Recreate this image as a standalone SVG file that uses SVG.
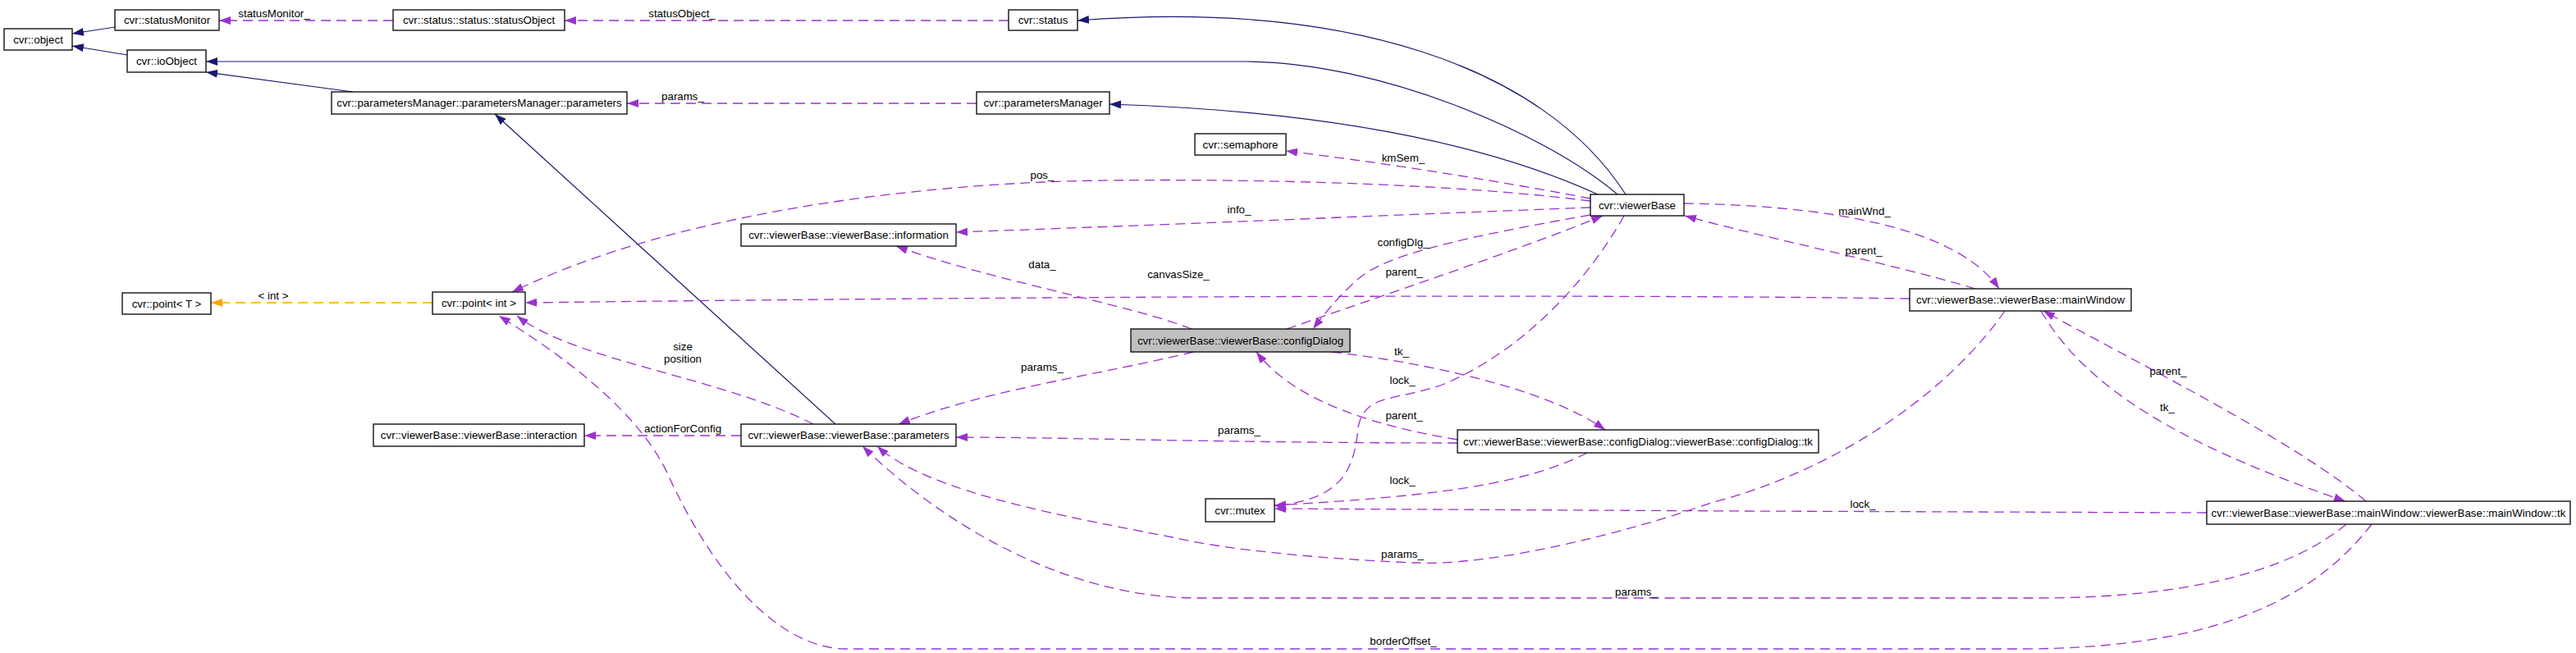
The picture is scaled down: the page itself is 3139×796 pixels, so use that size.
<svg xmlns="http://www.w3.org/2000/svg" width="3139" height="796" viewBox="0 0 3139 796">
<style>
.n rect{fill:#ffffff;stroke:#000000;stroke-width:1.3}
.n.cur rect{fill:#bfbfbf}
text{font-family:"Liberation Sans",Arial,Helvetica,sans-serif;font-size:13.33px;fill:#000000}
.n text{text-anchor:middle}
.l{text-anchor:middle}
.inh{fill:none;stroke:#191970;stroke-width:1.2;marker-end:url(#an)}
.use{fill:none;stroke:#9a32cd;stroke-width:1.3;stroke-dasharray:12,7;marker-end:url(#ap)}
.tpl{fill:none;stroke:#ffa500;stroke-width:1.3;stroke-dasharray:12,7;marker-end:url(#ao)}
</style>
<defs>
<marker id="an" viewBox="0 0 14 10" refX="14" refY="5" markerWidth="14" markerHeight="10" markerUnits="userSpaceOnUse" orient="auto"><path d="M0,0 L14,5 L0,10 z" fill="#191970"/></marker>
<marker id="ap" viewBox="0 0 14 10" refX="14" refY="5" markerWidth="14" markerHeight="10" markerUnits="userSpaceOnUse" orient="auto"><path d="M0,0 L14,5 L0,10 z" fill="#9a32cd"/></marker>
<marker id="ao" viewBox="0 0 14 10" refX="14" refY="5" markerWidth="14" markerHeight="10" markerUnits="userSpaceOnUse" orient="auto"><path d="M0,0 L14,5 L0,10 z" fill="#ffa500"/></marker>
</defs>
<rect x="0" y="0" width="3139" height="796" fill="#ffffff"/>
<g id="connectors">
<path class="inh" d="M140,33 L88,41"/>
<path class="inh" d="M155,67 L88,56"/>
<path class="inh" d="M430,112 L251,88"/>
<path class="inh" d="M1971,237 C1880,160 1680,76 1519,75 L251,75"/>
<path class="inh" d="M1981,237 C1880,80 1640,0 1313,25"/>
<path class="inh" d="M1947,237 C1800,170 1600,135 1352,127"/>
<path class="inh" d="M1018,517 L603,139"/>
<path class="use" d="M479,25 L267,25"/>
<text class="l" x="334" y="21">statusMonitor_</text>
<path class="use" d="M1229,25 L688,25"/>
<text class="l" x="831" y="21">statusObject_</text>
<path class="use" d="M1190,126 L764,126"/>
<text class="l" x="832" y="122">params_</text>
<path class="use" d="M1938,242 C1850,225 1700,200 1567,184"/>
<text class="l" x="1710" y="197">kmSem_</text>
<path class="use" d="M1938,245 C1700,215 1350,218 1270,222 C1050,232 800,270 624,356"/>
<text class="l" x="1270" y="218">pos_</text>
<path class="use" d="M1938,253 C1700,262 1400,275 1165,283"/>
<text class="l" x="1510" y="260">info_</text>
<path class="use" d="M1938,262 C1780,290 1690,310 1655,340 C1630,362 1612,385 1600,401"/>
<text class="l" x="1710" y="300">configDlg_</text>
<path class="use" d="M1568,401 C1680,362 1850,305 1953,263"/>
<text class="l" x="1711" y="336">parent_</text>
<path class="use" d="M1452,401 C1380,372 1200,340 1092,300"/>
<text class="l" x="1270" y="327">data_</text>
<path class="use" d="M2327,364 C1900,358 1200,362 640,369"/>
<text class="l" x="1436" y="339">canvasSize_</text>
<path class="tpl" d="M527,369 L257,369"/>
<text class="l" x="333" y="365">&lt; int &gt;</text>
<path class="use" d="M2052,248 C2200,250 2380,270 2436,352"/>
<text class="l" x="2272" y="262">mainWnd_</text>
<path class="use" d="M2407,352 C2300,320 2150,290 2053,263"/>
<text class="l" x="2271" y="310">parent_</text>
<path class="use" d="M1454,429 C1350,455 1200,475 1095,517"/>
<text class="l" x="1270" y="452">params_</text>
<path class="use" d="M1623,429 C1720,440 1880,470 1956,524"/>
<text class="l" x="1708" y="433">tk_</text>
<path class="use" d="M1776,536 C1650,515 1570,480 1531,429"/>
<text class="l" x="1711" y="511">parent_</text>
<path class="use" d="M1776,540 C1500,540 1300,533 1165,533"/>
<text class="l" x="1510" y="529">params_</text>
<path class="use" d="M1979,263 C1930,350 1850,430 1760,468 C1700,490 1665,478 1655,520 C1650,580 1630,608 1553,617"/>
<text class="l" x="1709" y="468">lock_</text>
<path class="use" d="M1934,552 C1860,590 1750,605 1553,616"/>
<text class="l" x="1709" y="590">lock_</text>
<path class="use" d="M2689,625 L2127,623 L1553,620"/>
<text class="l" x="2270" y="619">lock_</text>
<path class="use" d="M2487,379 C2540,470 2650,540 2858,611"/>
<text class="l" x="2641" y="501">tk_</text>
<path class="use" d="M2883,611 C2800,540 2600,440 2490,379"/>
<text class="l" x="2642" y="457">parent_</text>
<path class="use" d="M2443,379 C2380,470 2250,570 2085,613 C1980,650 1820,690 1725,686 C1640,683 1500,672 1429,655 C1300,630 1130,600 1069,544"/>
<text class="l" x="1709" y="680">params_</text>
<path class="use" d="M2859,639 C2780,705 2640,729 2480,729 L1460,729 C1300,729 1150,640 1051,544"/>
<text class="l" x="1994" y="726">params_</text>
<path class="use" d="M2890,639 C2820,730 2700,791 2460,791 L1031,791 C960,791 880,720 816,583 C780,500 680,430 608,385"/>
<text class="l" x="1710" y="786">borderOffset_</text>
<path class="use" d="M991,517 C880,460 700,440 630,385"/>
<text class="l" x="832" y="427">size</text>
<text class="l" x="832" y="442">position</text>
<path class="use" d="M903,531 L712,531"/>
<text class="l" x="832" y="527">actionForConfig</text>
</g>
<g id="node-object" class="n"><rect x="5" y="35" width="83" height="26"/><text x="46.5" y="52.5">cvr::object</text></g>
<g id="node-statusMonitor" class="n"><rect x="140" y="12" width="127" height="25"/><text x="203.5" y="29">cvr::statusMonitor</text></g>
<g id="node-statusObject" class="n"><rect x="479" y="12" width="209" height="25"/><text x="583.5" y="29">cvr::status::status::statusObject</text></g>
<g id="node-status" class="n"><rect x="1229" y="12" width="84" height="25"/><text x="1271" y="29">cvr::status</text></g>
<g id="node-ioObject" class="n"><rect x="155" y="61" width="96" height="27"/><text x="203" y="79">cvr::ioObject</text></g>
<g id="node-pm-parameters" class="n"><rect x="404" y="112" width="360" height="27"/><text x="584" y="130">cvr::parametersManager::parametersManager::parameters</text></g>
<g id="node-parametersManager" class="n"><rect x="1190" y="112" width="162" height="27"/><text x="1271" y="130">cvr::parametersManager</text></g>
<g id="node-semaphore" class="n"><rect x="1456" y="163" width="111" height="26"/><text x="1511.5" y="180.5">cvr::semaphore</text></g>
<g id="node-viewerBase" class="n"><rect x="1938" y="237" width="114" height="26"/><text x="1995" y="254.5">cvr::viewerBase</text></g>
<g id="node-information" class="n"><rect x="903" y="273" width="262" height="27"/><text x="1034" y="291">cvr::viewerBase::viewerBase::information</text></g>
<g id="node-pointT" class="n"><rect x="149" y="357" width="108" height="26"/><text x="203" y="374.5">cvr::point&lt; T &gt;</text></g>
<g id="node-pointInt" class="n"><rect x="527" y="356" width="113" height="27"/><text x="583.5" y="374">cvr::point&lt; int &gt;</text></g>
<g id="node-mainWindow" class="n"><rect x="2327" y="352" width="270" height="27"/><text x="2462" y="370">cvr::viewerBase::viewerBase::mainWindow</text></g>
<g id="node-configDialog" class="n cur"><rect x="1378" y="401" width="267" height="28"/><text x="1511.5" y="419.5">cvr::viewerBase::viewerBase::configDialog</text></g>
<g id="node-interaction" class="n"><rect x="455" y="517" width="257" height="27"/><text x="583.5" y="535">cvr::viewerBase::viewerBase::interaction</text></g>
<g id="node-vb-parameters" class="n"><rect x="903" y="517" width="262" height="27"/><text x="1034" y="535">cvr::viewerBase::viewerBase::parameters</text></g>
<g id="node-cd-tk" class="n"><rect x="1776" y="524" width="440" height="28"/><text x="1996" y="542.5">cvr::viewerBase::viewerBase::configDialog::viewerBase::configDialog::tk</text></g>
<g id="node-mutex" class="n"><rect x="1469" y="608" width="84" height="28"/><text x="1511" y="626.5">cvr::mutex</text></g>
<g id="node-mw-tk" class="n"><rect x="2689" y="611" width="443" height="28"/><text x="2910.5" y="629.5">cvr::viewerBase::viewerBase::mainWindow::viewerBase::mainWindow::tk</text></g>
</svg>
